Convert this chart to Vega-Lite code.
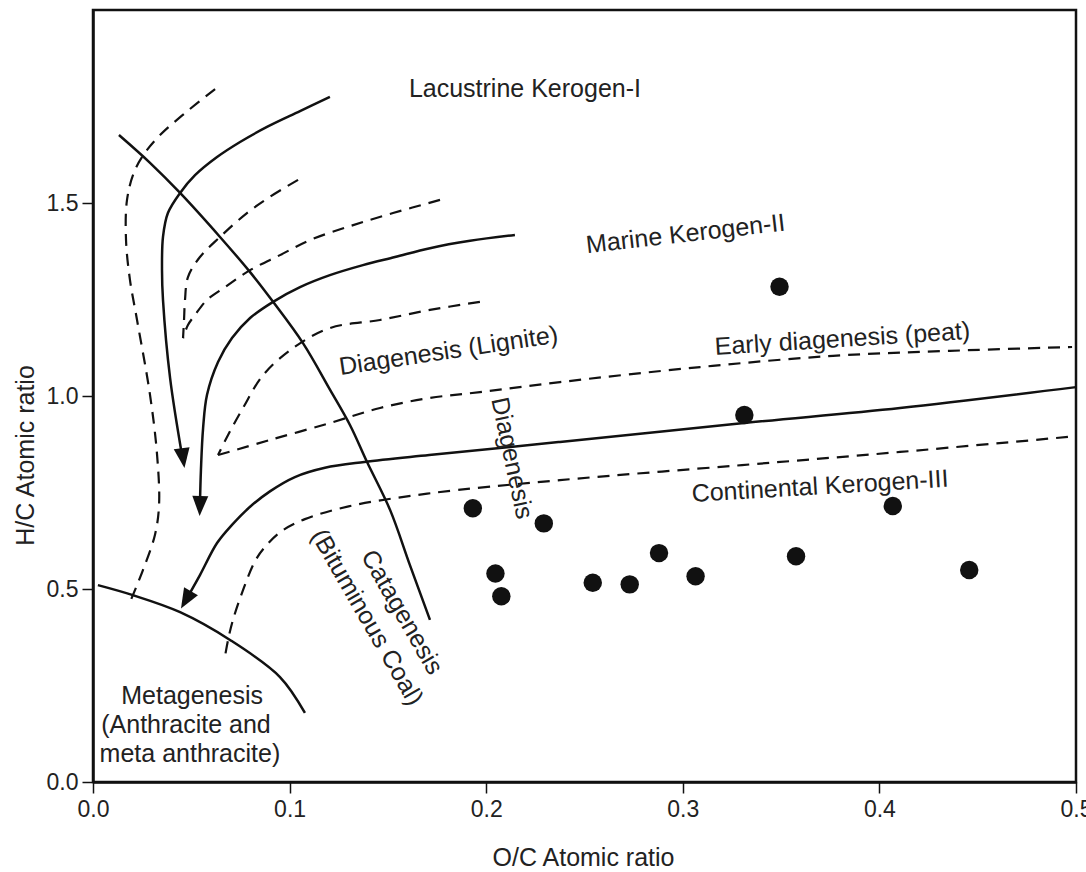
{
  "$schema": "https://vega.github.io/schema/vega-lite/v6.json",
  "width": 983,
  "height": 772,
  "autosize": "none",
  "padding": {"left": 93, "top": 10, "right": 10, "bottom": 90},
  "background": "white",
  "config": {
    "view": {"stroke": "#111", "strokeWidth": 2.5},
    "font": "Liberation Sans",
    "axis": {
      "grid": false,
      "domainColor": "#111",
      "domainWidth": 2.5,
      "tickColor": "#111",
      "tickWidth": 1.5,
      "labelColor": "#222",
      "titleColor": "#222",
      "labelFont": "Liberation Sans",
      "titleFont": "Liberation Sans",
      "titleFontWeight": "normal",
      "labelFontSize": 23,
      "titleFontSize": 25
    }
  },
  "datasets": {
    "solid": [
      {"c": "catagenesis", "i": 0, "x": 0.0132, "y": 1.676},
      {"c": "catagenesis", "i": 1, "x": 0.0290, "y": 1.604},
      {"c": "catagenesis", "i": 2, "x": 0.0443, "y": 1.526},
      {"c": "catagenesis", "i": 3, "x": 0.0646, "y": 1.412},
      {"c": "catagenesis", "i": 4, "x": 0.0799, "y": 1.321},
      {"c": "catagenesis", "i": 5, "x": 0.0916, "y": 1.244},
      {"c": "catagenesis", "i": 6, "x": 0.1068, "y": 1.137},
      {"c": "catagenesis", "i": 7, "x": 0.1206, "y": 1.016},
      {"c": "catagenesis", "i": 8, "x": 0.1307, "y": 0.925},
      {"c": "catagenesis", "i": 9, "x": 0.1394, "y": 0.829},
      {"c": "catagenesis", "i": 10, "x": 0.1511, "y": 0.705},
      {"c": "catagenesis", "i": 11, "x": 0.1612, "y": 0.562},
      {"c": "catagenesis", "i": 12, "x": 0.1714, "y": 0.420},
      {"c": "metagenesis", "i": 0, "x": 0.0025, "y": 0.510},
      {"c": "metagenesis", "i": 1, "x": 0.0203, "y": 0.484},
      {"c": "metagenesis", "i": 2, "x": 0.0443, "y": 0.440},
      {"c": "metagenesis", "i": 3, "x": 0.0697, "y": 0.368},
      {"c": "metagenesis", "i": 4, "x": 0.0951, "y": 0.272},
      {"c": "metagenesis", "i": 5, "x": 0.1078, "y": 0.179},
      {"c": "typeI", "i": 0, "x": 0.1205, "y": 1.775},
      {"c": "typeI", "i": 1, "x": 0.1053, "y": 1.738},
      {"c": "typeI", "i": 2, "x": 0.0885, "y": 1.697},
      {"c": "typeI", "i": 3, "x": 0.0748, "y": 1.658},
      {"c": "typeI", "i": 4, "x": 0.0631, "y": 1.619},
      {"c": "typeI", "i": 5, "x": 0.0519, "y": 1.572},
      {"c": "typeI", "i": 6, "x": 0.0443, "y": 1.526},
      {"c": "typeI", "i": 7, "x": 0.0381, "y": 1.474},
      {"c": "typeI", "i": 8, "x": 0.0356, "y": 1.412},
      {"c": "typeI", "i": 9, "x": 0.0351, "y": 1.326},
      {"c": "typeI", "i": 10, "x": 0.0356, "y": 1.249},
      {"c": "typeI", "i": 11, "x": 0.0392, "y": 1.047},
      {"c": "typeI", "i": 12, "x": 0.0455, "y": 0.840},
      {"c": "typeII", "i": 0, "x": 0.2146, "y": 1.417},
      {"c": "typeII", "i": 1, "x": 0.1918, "y": 1.402},
      {"c": "typeII", "i": 2, "x": 0.1714, "y": 1.383},
      {"c": "typeII", "i": 3, "x": 0.1536, "y": 1.360},
      {"c": "typeII", "i": 4, "x": 0.1373, "y": 1.339},
      {"c": "typeII", "i": 5, "x": 0.1205, "y": 1.313},
      {"c": "typeII", "i": 6, "x": 0.1053, "y": 1.282},
      {"c": "typeII", "i": 7, "x": 0.0916, "y": 1.244},
      {"c": "typeII", "i": 8, "x": 0.0799, "y": 1.202},
      {"c": "typeII", "i": 9, "x": 0.0707, "y": 1.150},
      {"c": "typeII", "i": 10, "x": 0.0636, "y": 1.088},
      {"c": "typeII", "i": 11, "x": 0.0580, "y": 1.003},
      {"c": "typeII", "i": 12, "x": 0.0560, "y": 0.917},
      {"c": "typeII", "i": 13, "x": 0.0549, "y": 0.808},
      {"c": "typeII", "i": 14, "x": 0.0544, "y": 0.720},
      {"c": "typeIII", "i": 0, "x": 0.5000, "y": 1.023},
      {"c": "typeIII", "i": 1, "x": 0.4105, "y": 0.969},
      {"c": "typeIII", "i": 2, "x": 0.3311, "y": 0.930},
      {"c": "typeIII", "i": 3, "x": 0.2375, "y": 0.881},
      {"c": "typeIII", "i": 4, "x": 0.1710, "y": 0.847},
      {"c": "typeIII", "i": 5, "x": 0.1380, "y": 0.829},
      {"c": "typeIII", "i": 6, "x": 0.1180, "y": 0.814},
      {"c": "typeIII", "i": 7, "x": 0.1027, "y": 0.790},
      {"c": "typeIII", "i": 8, "x": 0.0900, "y": 0.753},
      {"c": "typeIII", "i": 9, "x": 0.0799, "y": 0.713},
      {"c": "typeIII", "i": 10, "x": 0.0707, "y": 0.666},
      {"c": "typeIII", "i": 11, "x": 0.0631, "y": 0.619},
      {"c": "typeIII", "i": 12, "x": 0.0544, "y": 0.536},
      {"c": "typeIII", "i": 13, "x": 0.0480, "y": 0.478}
    ],
    "dashed": [
      {"c": "outerI", "i": 0, "x": 0.0621, "y": 1.795},
      {"c": "outerI", "i": 1, "x": 0.0468, "y": 1.733},
      {"c": "outerI", "i": 2, "x": 0.0341, "y": 1.676},
      {"c": "outerI", "i": 3, "x": 0.0264, "y": 1.630},
      {"c": "outerI", "i": 4, "x": 0.0209, "y": 1.580},
      {"c": "outerI", "i": 5, "x": 0.0173, "y": 1.508},
      {"c": "outerI", "i": 6, "x": 0.0168, "y": 1.404},
      {"c": "outerI", "i": 7, "x": 0.0188, "y": 1.301},
      {"c": "outerI", "i": 8, "x": 0.0224, "y": 1.197},
      {"c": "outerI", "i": 9, "x": 0.0290, "y": 1.003},
      {"c": "outerI", "i": 10, "x": 0.0326, "y": 0.847},
      {"c": "outerI", "i": 11, "x": 0.0336, "y": 0.718},
      {"c": "outerI", "i": 12, "x": 0.0315, "y": 0.640},
      {"c": "outerI", "i": 13, "x": 0.0254, "y": 0.549},
      {"c": "outerI", "i": 14, "x": 0.0193, "y": 0.472},
      {"c": "innerIa", "i": 0, "x": 0.1043, "y": 1.560},
      {"c": "innerIa", "i": 1, "x": 0.0900, "y": 1.516},
      {"c": "innerIa", "i": 2, "x": 0.0783, "y": 1.474},
      {"c": "innerIa", "i": 3, "x": 0.0646, "y": 1.412},
      {"c": "innerIa", "i": 4, "x": 0.0544, "y": 1.360},
      {"c": "innerIa", "i": 5, "x": 0.0483, "y": 1.308},
      {"c": "innerIa", "i": 6, "x": 0.0468, "y": 1.249},
      {"c": "innerIa", "i": 7, "x": 0.0463, "y": 1.197},
      {"c": "innerIa", "i": 8, "x": 0.0458, "y": 1.150},
      {"c": "innerIb", "i": 0, "x": 0.1765, "y": 1.508},
      {"c": "innerIb", "i": 1, "x": 0.1526, "y": 1.474},
      {"c": "innerIb", "i": 2, "x": 0.1307, "y": 1.440},
      {"c": "innerIb", "i": 3, "x": 0.1104, "y": 1.404},
      {"c": "innerIb", "i": 4, "x": 0.0951, "y": 1.365},
      {"c": "innerIb", "i": 5, "x": 0.0799, "y": 1.326},
      {"c": "innerIb", "i": 6, "x": 0.0671, "y": 1.282},
      {"c": "innerIb", "i": 7, "x": 0.0580, "y": 1.249},
      {"c": "innerIb", "i": 8, "x": 0.0519, "y": 1.210},
      {"c": "innerIb", "i": 9, "x": 0.0483, "y": 1.184},
      {"c": "innerIb", "i": 10, "x": 0.0458, "y": 1.150},
      {"c": "lignite", "i": 0, "x": 0.1968, "y": 1.244},
      {"c": "lignite", "i": 1, "x": 0.1714, "y": 1.223},
      {"c": "lignite", "i": 2, "x": 0.1460, "y": 1.197},
      {"c": "lignite", "i": 3, "x": 0.1205, "y": 1.176},
      {"c": "lignite", "i": 4, "x": 0.1017, "y": 1.124},
      {"c": "lignite", "i": 5, "x": 0.0865, "y": 1.054},
      {"c": "lignite", "i": 6, "x": 0.0763, "y": 0.969},
      {"c": "lignite", "i": 7, "x": 0.0687, "y": 0.899},
      {"c": "lignite", "i": 8, "x": 0.0636, "y": 0.847},
      {"c": "peat", "i": 0, "x": 0.0636, "y": 0.847},
      {"c": "peat", "i": 1, "x": 0.0900, "y": 0.886},
      {"c": "peat", "i": 2, "x": 0.1205, "y": 0.930},
      {"c": "peat", "i": 3, "x": 0.1460, "y": 0.969},
      {"c": "peat", "i": 4, "x": 0.1714, "y": 0.995},
      {"c": "peat", "i": 5, "x": 0.1968, "y": 1.010},
      {"c": "peat", "i": 6, "x": 0.2375, "y": 1.036},
      {"c": "peat", "i": 7, "x": 0.3088, "y": 1.075},
      {"c": "peat", "i": 8, "x": 0.3764, "y": 1.104},
      {"c": "peat", "i": 9, "x": 0.4359, "y": 1.117},
      {"c": "peat", "i": 10, "x": 0.4980, "y": 1.127},
      {"c": "contIII", "i": 0, "x": 0.4959, "y": 0.894},
      {"c": "contIII", "i": 1, "x": 0.4105, "y": 0.855},
      {"c": "contIII", "i": 2, "x": 0.3301, "y": 0.821},
      {"c": "contIII", "i": 3, "x": 0.2375, "y": 0.782},
      {"c": "contIII", "i": 4, "x": 0.1700, "y": 0.747},
      {"c": "contIII", "i": 5, "x": 0.1300, "y": 0.714},
      {"c": "contIII", "i": 6, "x": 0.1078, "y": 0.681},
      {"c": "contIII", "i": 7, "x": 0.0960, "y": 0.650},
      {"c": "contIII", "i": 8, "x": 0.0880, "y": 0.612},
      {"c": "contIII", "i": 9, "x": 0.0825, "y": 0.573},
      {"c": "contIII", "i": 10, "x": 0.0763, "y": 0.497},
      {"c": "contIII", "i": 11, "x": 0.0712, "y": 0.420},
      {"c": "contIII", "i": 12, "x": 0.0687, "y": 0.368},
      {"c": "contIII", "i": 13, "x": 0.0671, "y": 0.324}
    ],
    "arrows": [
      {"a": "typeI", "x": 0.0458, "y": 0.839},
      {"a": "typeII", "x": 0.0544, "y": 0.715},
      {"a": "typeIII", "x": 0.0473, "y": 0.472}
    ],
    "samples": [
      {"x": 0.3492, "y": 1.283},
      {"x": 0.3313, "y": 0.951},
      {"x": 0.1932, "y": 0.709},
      {"x": 0.2293, "y": 0.670},
      {"x": 0.4068, "y": 0.715},
      {"x": 0.2879, "y": 0.593},
      {"x": 0.3576, "y": 0.585},
      {"x": 0.2047, "y": 0.540},
      {"x": 0.2542, "y": 0.516},
      {"x": 0.2730, "y": 0.512},
      {"x": 0.3065, "y": 0.533},
      {"x": 0.4457, "y": 0.549},
      {"x": 0.2077, "y": 0.481}
    ],
    "labels": [
      {"label": "Lacustrine Kerogen-I", "x": 0.2197, "y": 1.795},
      {"label": "Marine Kerogen-II", "x": 0.3014, "y": 1.420},
      {"label": "Diagenesis (Lignite)", "x": 0.1808, "y": 1.117},
      {"label": "Early diagenesis (peat)", "x": 0.3812, "y": 1.148},
      {"label": "Continental Kerogen-III", "x": 0.3698, "y": 0.766},
      {"label": "Diagenesis", "x": 0.2131, "y": 0.839},
      {"label": "Catagenesis", "x": 0.1572, "y": 0.440},
      {"label": "(Bituminous Coal)", "x": 0.1394, "y": 0.427},
      {"label": "Metagenesis", "x": 0.0504, "y": 0.224},
      {"label": "(Anthracite and", "x": 0.0473, "y": 0.148},
      {"label": "meta anthracite)", "x": 0.0493, "y": 0.073}
    ]
  },
  "encoding": {
    "x": {
      "field": "x",
      "type": "quantitative",
      "scale": {"domain": [0, 0.5], "nice": false, "zero": false},
      "axis": {
        "title": "O/C Atomic ratio",
        "values": [0, 0.1, 0.2, 0.3, 0.4, 0.5],
        "format": ".1f",
        "tickSize": 11,
        "labelPadding": 5,
        "labelFlush": false,
        "labelOverlap": false,
        "titleBaseline": "alphabetic",
        "titleX": 490,
        "titleY": 83
      }
    },
    "y": {
      "field": "y",
      "type": "quantitative",
      "scale": {"domain": [0, 2.0], "nice": false, "zero": false},
      "axis": {
        "title": "H/C Atomic ratio",
        "values": [0, 0.5, 1, 1.5],
        "format": ".1f",
        "tickSize": 11,
        "labelPadding": 4,
        "labelFlush": false,
        "labelOverlap": false,
        "titleBaseline": "alphabetic",
        "titleX": -60,
        "titleY": 445
      }
    }
  },
  "layer": [
    {
      "data": {"name": "dashed"},
      "mark": {"type": "line", "color": "#111", "strokeWidth": 2.2, "strokeDash": [12, 8], "interpolate": "catmull-rom"},
      "encoding": {
        "detail": {"field": "c", "type": "nominal"},
        "order": {"field": "i", "type": "quantitative"}
      }
    },
    {
      "data": {"name": "solid"},
      "mark": {"type": "line", "color": "#111", "strokeWidth": 2.5, "interpolate": "catmull-rom"},
      "encoding": {
        "detail": {"field": "c", "type": "nominal"},
        "order": {"field": "i", "type": "quantitative"}
      }
    },
    {
      "data": {"name": "arrows"},
      "transform": [{"filter": "datum.a === 'typeI'"}],
      "mark": {"type": "point", "shape": "M-0.8,-1L0.8,-1L0,1Z", "size": 400, "filled": true, "opacity": 1, "color": "#111", "angle": -8},
      "encoding": {}
    },
    {
      "data": {"name": "arrows"},
      "transform": [{"filter": "datum.a === 'typeII'"}],
      "mark": {"type": "point", "shape": "M-0.8,-1L0.8,-1L0,1Z", "size": 400, "filled": true, "opacity": 1, "color": "#111", "angle": 2},
      "encoding": {}
    },
    {
      "data": {"name": "arrows"},
      "transform": [{"filter": "datum.a === 'typeIII'"}],
      "mark": {"type": "point", "shape": "M-0.8,-1L0.8,-1L0,1Z", "size": 400, "filled": true, "opacity": 1, "color": "#111", "angle": 30},
      "encoding": {}
    },
    {
      "data": {"name": "samples"},
      "mark": {"type": "point", "shape": "circle", "size": 340, "filled": true, "opacity": 1, "color": "#111"},
      "encoding": {}
    },
    {
      "data": {"name": "labels"},
      "transform": [{"filter": {"field": "label", "oneOf": ["Lacustrine Kerogen-I", "Metagenesis", "(Anthracite and", "meta anthracite)"]}}],
      "mark": {"type": "text", "fontSize": 25, "color": "#222", "align": "center", "baseline": "middle"},
      "encoding": {"text": {"field": "label"}}
    },
    {
      "data": {"name": "labels"},
      "transform": [{"filter": {"field": "label", "equal": "Marine Kerogen-II"}}],
      "mark": {"type": "text", "fontSize": 25, "color": "#222", "align": "center", "baseline": "middle", "angle": -6.5},
      "encoding": {"text": {"field": "label"}}
    },
    {
      "data": {"name": "labels"},
      "transform": [{"filter": {"field": "label", "equal": "Diagenesis (Lignite)"}}],
      "mark": {"type": "text", "fontSize": 25, "color": "#222", "align": "center", "baseline": "middle", "angle": -8.5},
      "encoding": {"text": {"field": "label"}}
    },
    {
      "data": {"name": "labels"},
      "transform": [{"filter": {"field": "label", "equal": "Early diagenesis (peat)"}}],
      "mark": {"type": "text", "fontSize": 25, "color": "#222", "align": "center", "baseline": "middle", "angle": -3.6},
      "encoding": {"text": {"field": "label"}}
    },
    {
      "data": {"name": "labels"},
      "transform": [{"filter": {"field": "label", "equal": "Continental Kerogen-III"}}],
      "mark": {"type": "text", "fontSize": 25, "color": "#222", "align": "center", "baseline": "middle", "angle": -3.4},
      "encoding": {"text": {"field": "label"}}
    },
    {
      "data": {"name": "labels"},
      "transform": [{"filter": {"field": "label", "equal": "Diagenesis"}}],
      "mark": {"type": "text", "fontSize": 25, "color": "#222", "align": "center", "baseline": "middle", "angle": 78},
      "encoding": {"text": {"field": "label"}}
    },
    {
      "data": {"name": "labels"},
      "transform": [{"filter": {"field": "label", "oneOf": ["Catagenesis", "(Bituminous Coal)"]}}],
      "mark": {"type": "text", "fontSize": 25, "color": "#222", "align": "center", "baseline": "middle", "angle": 60},
      "encoding": {"text": {"field": "label"}}
    }
  ]
}
